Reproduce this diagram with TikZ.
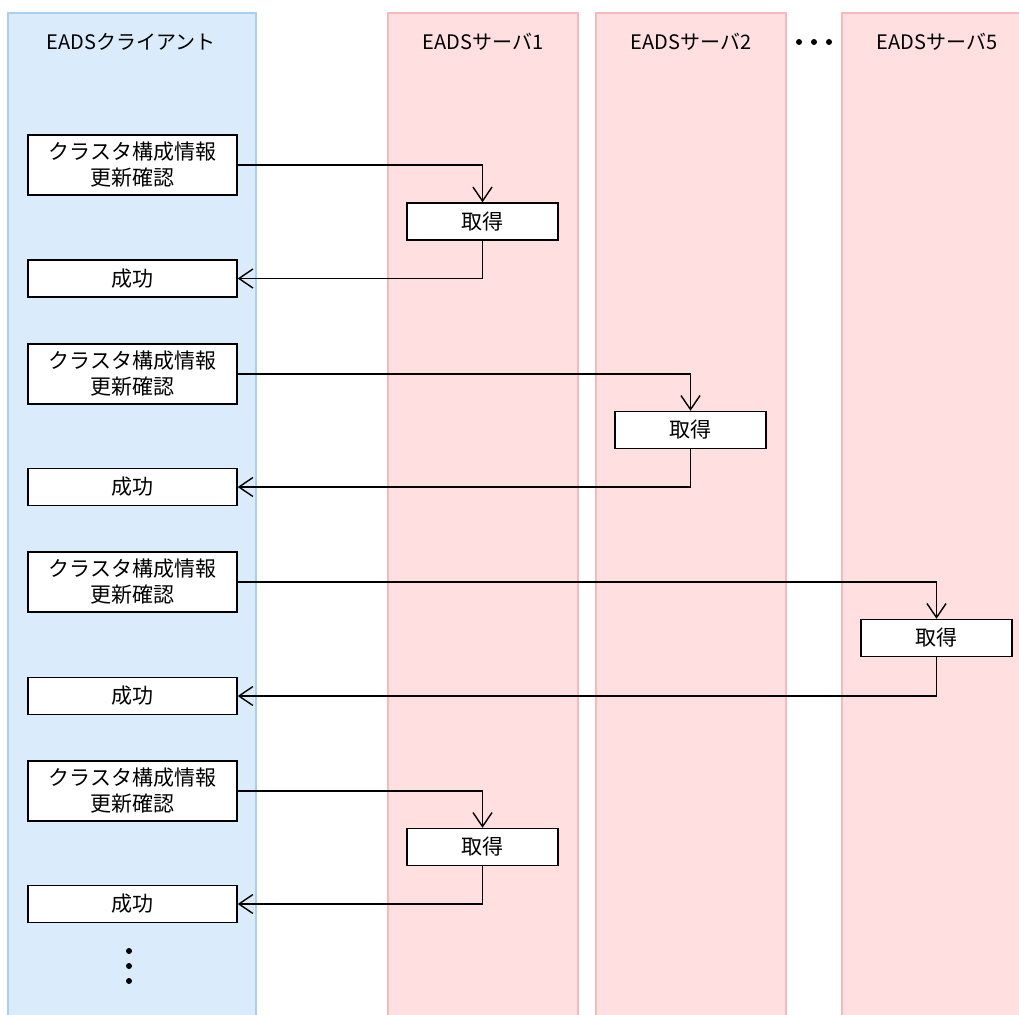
\documentclass[tikz,border=0pt]{standalone}
\usepackage{fontspec}
\setmainfont{Noto Sans CJK JP}
\usetikzlibrary{arrows.meta}
\definecolor{cfill}{HTML}{DAEBFC}
\definecolor{cdraw}{HTML}{A9CEF4}
\definecolor{sfill}{HTML}{FFDFE0}
\definecolor{sdraw}{HTML}{F7B9BB}
\tikzset{
  clane/.style={fill=cfill,draw=cdraw,line width=1.2pt},
  slane/.style={fill=sfill,draw=sdraw,line width=1.2pt},
  title/.style={font=\fontsize{20}{24}\selectfont,inner sep=0pt},
  req/.style={draw=black,fill=white,line width=1.4pt,minimum width=209pt,minimum height=60pt,align=center,inner sep=0pt,font=\fontsize{21}{26}\selectfont},
  ok/.style={draw=black,fill=white,line width=1.4pt,minimum width=209pt,minimum height=37pt,inner sep=0pt,font=\fontsize{21}{24}\selectfont},
  get/.style={draw=black,fill=white,line width=1.4pt,minimum width=151pt,minimum height=37pt,inner sep=0pt,font=\fontsize{21}{24}\selectfont},
  conn/.style={draw=black,line width=1.4pt,-{Straight Barb[length=14pt,width=19pt,line width=1.4pt]}},
  dotc/.style={fill=black,circle,inner sep=0pt,minimum size=6pt}
}
\begin{document}
\begin{tikzpicture}[x=1pt,y=-1pt]
\useasboundingbox (0,0) rectangle (1019,1014);
\begin{scope}
\clip (0,0) rectangle (1019,1014);
\path[clane] (8,13) rectangle (256,1025);
\path[slane] (388,13) rectangle (578,1025);
\path[slane] (596,13) rectangle (786,1025);
\path[slane] (842,13) rectangle (1030,1025);
\end{scope}
\node[title] (tc) at (131,42) {EADSクライアント};
\node[title] (t1) at (483,42) {EADSサーバ1};
\node[title] (t2) at (691,42) {EADSサーバ2};
\node[title] (t5) at (937,42) {EADSサーバ5};
\node[dotc] (h1) at (799,42) {};
\node[dotc] (h2) at (814,42) {};
\node[dotc] (h3) at (829,42) {};

\node[req] (r1) at (132.5,165) {クラスタ構成情報\\更新確認};
\node[get] (g1) at (482.5,221.5) {取得};
\node[ok] (s1) at (132.5,278.5) {成功};

\node[req] (r2) at (132.5,374) {クラスタ構成情報\\更新確認};
\node[get] (g2) at (690.5,430) {取得};
\node[ok] (s2) at (132.5,487) {成功};

\node[req] (r3) at (132.5,582) {クラスタ構成情報\\更新確認};
\node[get] (g3) at (936.5,638) {取得};
\node[ok] (s3) at (132.5,696) {成功};

\node[req] (r4) at (132.5,791) {クラスタ構成情報\\更新確認};
\node[get] (g4) at (482.5,847) {取得};
\node[ok] (s4) at (132.5,904) {成功};

\draw[conn] (r1.east) -| (g1.north);
\draw[conn] (g1.south) |- (s1.east);
\draw[conn] (r2.east) -| (g2.north);
\draw[conn] (g2.south) |- (s2.east);
\draw[conn] (r3.east) -| (g3.north);
\draw[conn] (g3.south) |- (s3.east);
\draw[conn] (r4.east) -| (g4.north);
\draw[conn] (g4.south) |- (s4.east);

\node[dotc] (v1) at (129,951) {};
\node[dotc] (v2) at (129,966) {};
\node[dotc] (v3) at (129,981) {};
\end{tikzpicture}
\end{document}
